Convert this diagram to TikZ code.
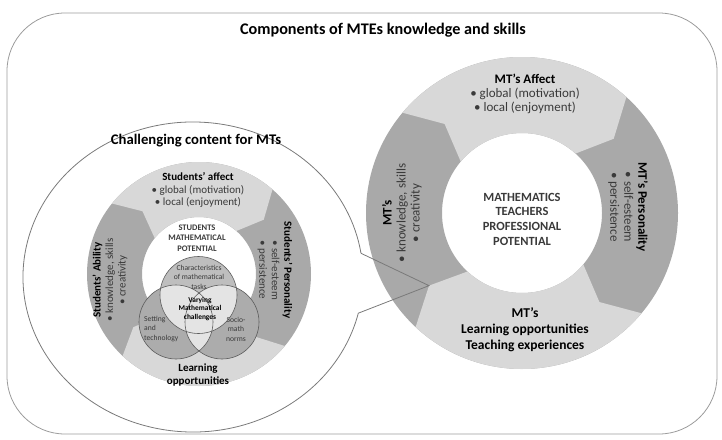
\documentclass[tikz,border=0pt]{standalone}
\usepackage{fontspec}
\setmainfont{Carlito}

\definecolor{segLight}{HTML}{D8D8D8}
\definecolor{segDark}{HTML}{A9A9A9}
\definecolor{frameGray}{HTML}{9C9C9C}
\definecolor{lensGray}{HTML}{7A7A7A}
\definecolor{bodyGray}{HTML}{3A3A3A}
\definecolor{vennTop}{HTML}{BEBEBE}
\definecolor{vennSide}{HTML}{ACACAC}
\definecolor{vennOver}{HTML}{E4E4E4}
\definecolor{vennLine}{HTML}{5C5C5C}

% One chevron-shaped ring segment around the current origin:
% #1 colour, #2 outer radius, #3 inner radius, #4 start angle, #5 end angle, #6 tip offset
\newcommand{\arrowseg}[6]{%
  \fill[#1] (#4:#2) arc[start angle=#4, end angle=#5, radius=#2]
    -- ({#5+#6}:{(#2+#3)/2}) -- (#5:#3)
    arc[start angle=#5, end angle=#4, radius=#3]
    -- ({#4+#6}:{(#2+#3)/2}) -- cycle;}

\begin{document}
\begin{tikzpicture}[x=1pt, y=-1pt,
  every node/.style={inner sep=0pt, align=center},
  headtxt/.style={font=\fontsize{16.2}{18}\selectfont\bfseries},
  bigtxt/.style={font=\fontsize{13}{14}\selectfont},
  bigbold/.style={font=\fontsize{13.5}{16}\selectfont\bfseries},
  coretxt/.style={font=\fontsize{12.5}{14.7}\selectfont\bfseries, text=bodyGray},
  smalltxt/.style={font=\fontsize{11}{12.5}\selectfont},
  smallbold/.style={font=\fontsize{11}{13}\selectfont\bfseries},
  smallcore/.style={font=\fontsize{8.5}{10.5}\selectfont\bfseries, text=bodyGray},
  venntxt/.style={font=\fontsize{7.6}{9.5}\selectfont, text=bodyGray},
  vennbold/.style={font=\fontsize{7.4}{8.6}\selectfont\bfseries, text=black},
  vennring/.style={draw=vennLine, line width=0.6},
  lensline/.style={draw=lensGray, line width=0.8}
]
\useasboundingbox (0,0) rectangle (722,439);

% outer frame and heading
\draw[frameGray, line width=0.8, rounded corners=58] (7,13) rectangle (717,434);
\node[headtxt] (mainTitle) at (383,30) {Components of MTEs knowledge and skills};

% large cycle: mathematics teachers
\begin{scope}[shift={(522,213)}]
  \fill[segDark, even odd rule] (0,0) circle[radius=156] (0,0) circle[radius=80];
  \arrowseg{segLight}{156}{80}{-140}{-48}{9}
  \arrowseg{segLight}{156}{80}{40}{133}{9}
  \coordinate (lensTip) at (142:118);
\end{scope}

\node[bigtxt] (mtAffect) at (525,94)
  {\textbf{MT's Affect}\\{\color{bodyGray}• global (motivation)}\\{\color{bodyGray}• local (enjoyment)}};
\node[bigtxt, rotate=-90] (mtPersonality) at (628,207)
  {\textbf{MT's Personality}\\{\color{bodyGray}• self-esteem}\\{\color{bodyGray}• persistence}};
\node[bigtxt, rotate=90] (mtKnowledge) at (402,213)
  {\textbf{MT's}\\{\color{bodyGray}• knowledge, skills}\\{\color{bodyGray}• creativity}};
\node[bigbold] (mtLearning) at (525,330)
  {MT's\\Learning opportunities\\Teaching experiences};
\node[coretxt] (mtCore) at (522,219)
  {MATHEMATICS\\TEACHERS\\PROFESSIONAL\\POTENTIAL};

% magnifying callout around the student cycle
\begin{scope}[shift={(193,277)}]
  \coordinate (lensLow) at ({170*cos(13.5)},{155*sin(13.5)});
  \coordinate (lensHigh) at ({170*cos(-8.8)},{155*sin(-8.8)});
\end{scope}
\draw[lensline] (lensLow) arc[start angle=13.5, end angle=351.2, x radius=170, y radius=155];
\draw[lensline] (lensHigh) -- (lensTip) -- (lensLow);
\node[font=\fontsize{14.7}{16}\selectfont\bfseries] (lensTitle) at (196,141)
  {Challenging content for MTs};

% small cycle: students
\begin{scope}[shift={(199,274)}]
  \fill[segDark, even odd rule] (0,0) circle[radius=112] (0,0) circle[radius=57];
  \arrowseg{segLight}{112}{57}{-141}{-49}{9}
  \arrowseg{segLight}{112}{57}{40}{133}{8}
\end{scope}

\node[smalltxt] (stAffect) at (198,190)
  {\textbf{Students' affect}\\{\color{bodyGray}• global (motivation)}\\{\color{bodyGray}• local (enjoyment)}};
\node[smalltxt, rotate=-90] (stPersonality) at (275,270)
  {\textbf{Students' Personality}\\{\color{bodyGray}• self-esteem}\\{\color{bodyGray}• persistence}};
\node[smalltxt, rotate=90] (stAbility) at (110,280)
  {\textbf{Students' Ability}\\{\color{bodyGray}• knowledge, skills}\\{\color{bodyGray}• creativity}};
\node[smallbold] (stLearning) at (198,375) {Learning\\opportunities};
\node[smallcore] (stCore) at (197,238) {STUDENTS\\MATHEMATICAL\\POTENTIAL};

% three-set overlap of task features
\fill[vennTop] (198.5,295) circle[radius=38.5];
\fill[vennSide] (176,322) circle[radius=37];
\fill[vennSide] (222,322) circle[radius=37];
\begin{scope}
  \clip (198.5,295) circle[radius=38.5];
  \fill[vennOver] (176,322) circle[radius=37];
  \fill[vennOver] (222,322) circle[radius=37];
\end{scope}
\begin{scope}
  \clip (176,322) circle[radius=37];
  \fill[vennOver] (222,322) circle[radius=37];
\end{scope}
\draw[vennring] (198.5,295) circle[radius=38.5];
\draw[vennring] (176,322) circle[radius=37];
\draw[vennring] (222,322) circle[radius=37];

\node[venntxt] (vTasks) at (199,277) {Characteristics\\of mathematical\\tasks};
\node[vennbold] (vChallenge) at (200,309) {Varying\\Mathematical\\challenges};
\node[venntxt, align=left, anchor=west] (vSetting) at (144,329) {Setting\\and\\technology};
\node[venntxt] (vNorms) at (236,329) {Socio-\\math\\norms};

\end{tikzpicture}
\end{document}
